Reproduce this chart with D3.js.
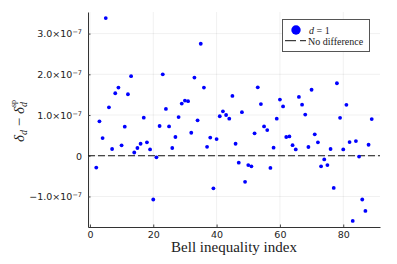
<!doctype html>
<html>
<head>
<meta charset="utf-8">
<script src="https://d3js.org/d3.v7.min.js"></script>
<style>
    body { margin: 0; background: #fff; }
    .tick-label { font-family: "DejaVu Sans", sans-serif; font-size: 9.5px; fill: #222; }
    .serif { font-family: "Liberation Serif", "DejaVu Serif", serif; fill: #222; }
</style>
</head>
<body>
<svg id="chart" width="397" height="264"></svg>
<script>
    // Bell inequality index and delta_d - delta_d^sp
    var bellIndex = [2, 3, 4, 5, 6, 7, 8, 9, 10, 11, 12, 13, 14, 15, 16, 17, 18, 19, 20,
        21, 22, 23, 24, 25, 26, 27, 28, 29, 30, 31, 32, 33, 34, 35, 36, 37, 38, 39, 40,
        41, 42, 43, 44, 45, 46, 47, 48, 49, 50, 51, 52, 53, 54, 55, 56, 57, 58, 59, 60,
        61, 62, 63, 64, 65, 66, 67, 68, 69, 70, 71, 72, 73, 74, 75, 76, 77, 78, 79, 80,
        81, 82, 83, 84, 85, 86, 87, 88, 89];
    var deltaDiff = [-0.29e-7, 0.845e-7, 0.435e-7, 3.38e-7, 1.19e-7, 0.165e-7, 1.535e-7, 1.675e-7, 0.255e-7,
        0.715e-7, 1.51e-7, 1.955e-7, 0.08e-7, 0.19e-7, 0.295e-7, 0.935e-7, 0.33e-7, 0.155e-7, -1.075e-7,
        -0.04e-7, 0.73e-7, 2.0e-7, 1.15e-7, 0.72e-7, 0.19e-7, 0.46e-7, 0.95e-7, 1.28e-7, 1.355e-7,
        1.34e-7, 0.565e-7, 1.92e-7, 0.87e-7, 2.75e-7, 1.675e-7, 0.22e-7, 0.445e-7, -0.8e-7, 0.41e-7,
        0.97e-7, 1.09e-7, 1.0e-7, 0.91e-7, 1.47e-7, 0.295e-7, -0.17e-7, 1.07e-7, -0.64e-7, -0.23e-7,
        -0.26e-7, 0.55e-7, 1.68e-7, 1.27e-7, 0.72e-7, 0.63e-7, -0.30e-7, 0.197e-7, 0.91e-7, 1.38e-7,
        1.21e-7, 0.46e-7, 0.475e-7, 0.26e-7, 0.155e-7, 1.445e-7, 1.255e-7, 1.01e-7, 0.215e-7, 1.62e-7,
        0.525e-7, 0.33e-7, -0.26e-7, -0.09e-7, -0.23e-7, 0.165e-7, -0.79e-7, 1.78e-7, 0.93e-7, 0.155e-7,
        1.25e-7, 0.335e-7, -1.6e-7, 0.36e-7, -0.02e-7, -1.075e-7, -1.355e-7, 0.27e-7, 0.9e-7];
    var xTicks = [0, 20, 40, 60, 80];
    var yTicks = [-1e-7, 0, 1e-7, 2e-7, 3e-7];

    var svg = d3.select("#chart");
    var plotLeft = 88, plotRight = 380, plotTop = 12, plotBottom = 227;

    var x = d3.scaleLinear().domain([-0.61, 91.61]).range([plotLeft, plotRight]);
    var y = d3.scaleLinear().domain([-1.75e-7, 3.53e-7]).range([plotBottom, plotTop]);

    svg.append("rect").attr("width", 397).attr("height", 264).attr("fill", "#fff");

    // grid
    var grid = svg.append("g").attr("stroke", "#000").attr("stroke-opacity", 0.1).attr("stroke-width", 0.6);
    grid.selectAll(".gx").data(xTicks).enter().append("line")
        .attr("x1", function(d) { return x(d); }).attr("x2", function(d) { return x(d); })
        .attr("y1", plotTop).attr("y2", plotBottom);
    grid.selectAll(".gy").data(yTicks).enter().append("line")
        .attr("y1", function(d) { return y(d); }).attr("y2", function(d) { return y(d); })
        .attr("x1", plotLeft).attr("x2", plotRight);

    // axes
    var xAxis = svg.append("g")
        .attr("transform", "translate(0," + plotBottom + ")")
        .call(d3.axisBottom(x).tickValues(xTicks).tickSizeInner(-2.5).tickSizeOuter(0).tickPadding(4));
    var yAxis = svg.append("g")
        .attr("transform", "translate(" + plotLeft + ",0)")
        .call(d3.axisLeft(y).tickValues(yTicks).tickSizeInner(-2.5).tickSizeOuter(0).tickPadding(6).tickFormat(""));
    [xAxis, yAxis].forEach(function(a) {
        a.attr("font-family", null).attr("font-size", null);
        a.select(".domain").attr("stroke", "#333").attr("stroke-width", 1);
        a.selectAll(".tick line").attr("stroke", "#444");
    });
    xAxis.selectAll(".tick text").attr("class", "tick-label");

    // y tick labels with x10^-7
    yAxis.selectAll(".tick").each(function(d) {
        var t = d3.select(this).append("text")
            .attr("class", "tick-label")
            .attr("x", -6).attr("dy", "0.35em")
            .attr("text-anchor", "end");
        if (d === 0) {
            t.text("0");
        } else {
            var m = d / 1e-7;
            t.append("tspan").text((m < 0 ? "\u2212" : "") + Math.abs(m).toFixed(1) + "\u00d710");
            t.append("tspan").attr("dy", "-0.45em").attr("font-size", "6.5px").text("\u22127");
        }
    });

    // zero line
    svg.append("line")
        .attr("x1", plotLeft).attr("x2", plotRight)
        .attr("y1", y(0)).attr("y2", y(0))
        .attr("stroke", "#111").attr("stroke-width", 1)
        .attr("stroke-dasharray", "7,3");

    // points
    svg.append("g").selectAll("circle")
        .data(bellIndex)
        .enter().append("circle")
        .attr("cx", function(d) { return x(d); })
        .attr("cy", function(d, i) { return y(deltaDiff[i]); })
        .attr("r", 1.9)
        .attr("fill", "#0000ff");

    // axis titles
    svg.append("text")
        .attr("class", "serif")
        .attr("x", (plotLeft + plotRight) / 2).attr("y", 252)
        .attr("text-anchor", "middle")
        .attr("font-size", "15px")
        .text("Bell inequality index");

    var yl = svg.append("text")
        .attr("class", "serif")
        .attr("transform", "translate(24,121) rotate(-90)")
        .attr("text-anchor", "middle")
        .attr("font-size", "15px");
    yl.append("tspan").attr("font-style", "italic").text("\u03b4");
    yl.append("tspan").attr("font-style", "italic").attr("font-size", "10px").attr("dy", "3").text("d");
    yl.append("tspan").attr("dy", "-3").text(" \u2212 ");
    yl.append("tspan").attr("font-style", "italic").text("\u03b4");
    yl.append("tspan").attr("font-style", "italic").attr("font-size", "10px").attr("dy", "3").text("d");
    yl.append("tspan").attr("font-size", "8px").attr("dx", "-5").attr("dy", "-11").text("sp");

    // legend
    var lg = svg.append("g");
    lg.append("rect")
        .attr("x", 282.5).attr("y", 19.5).attr("width", 87).attr("height", 32)
        .attr("fill", "#fff").attr("stroke", "#555").attr("stroke-width", 1);
    lg.append("circle").attr("cx", 296).attr("cy", 30).attr("r", 4.7).attr("fill", "#0000ff");
    lg.append("line")
        .attr("x1", 285).attr("x2", 306).attr("y1", 40.7).attr("y2", 40.7)
        .attr("stroke", "#111").attr("stroke-width", 1).attr("stroke-dasharray", "11,4");
    var l1 = lg.append("text").attr("class", "serif").attr("x", 309).attr("y", 33.5).attr("font-size", "10px");
    l1.append("tspan").attr("font-style", "italic").text("d");
    l1.append("tspan").text(" = 1");
    lg.append("text").attr("class", "serif").attr("x", 308).attr("y", 44.5).attr("font-size", "10px")
        .text("No difference");
</script>
</body>
</html>
